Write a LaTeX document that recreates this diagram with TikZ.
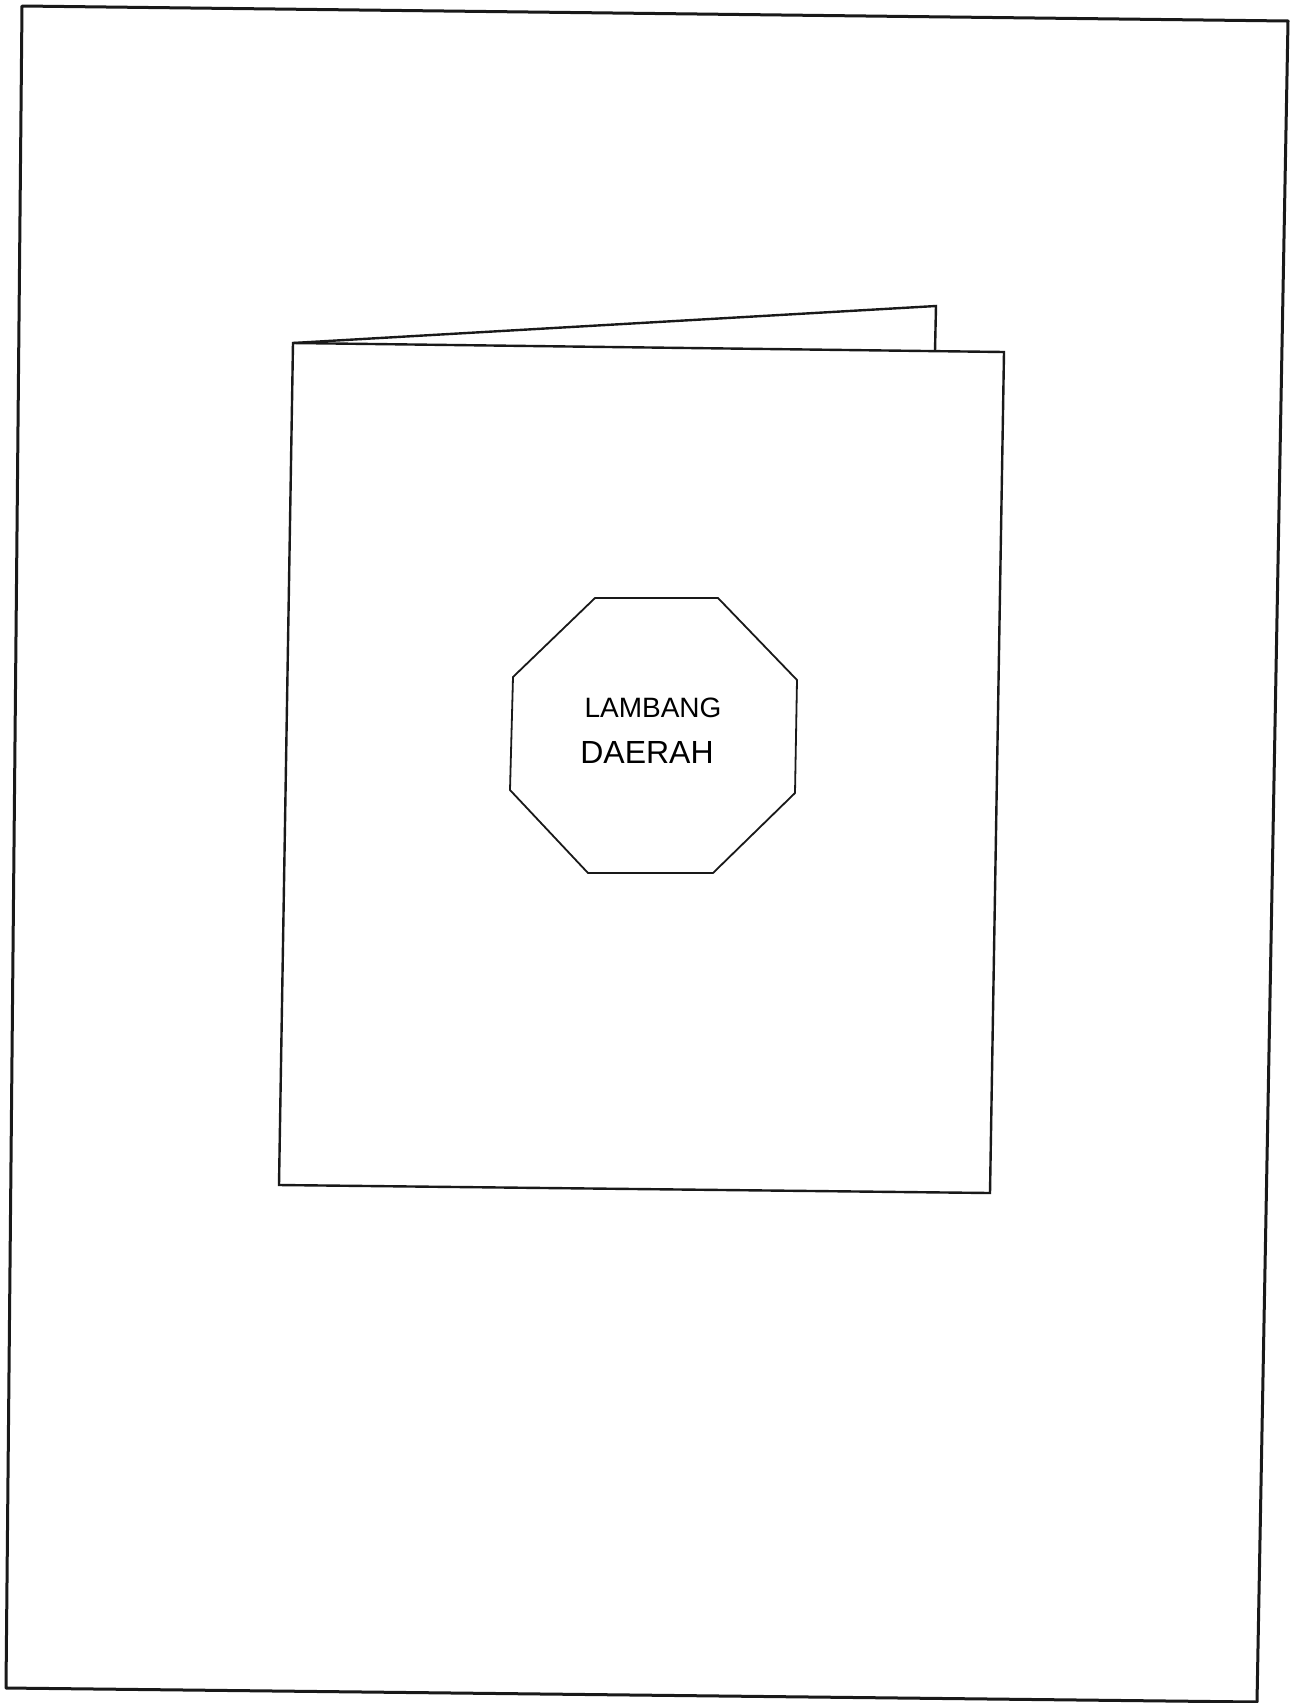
\documentclass[tikz,border=0pt]{standalone}
\usepackage{fontspec}
\setmainfont{Liberation Sans}
\begin{document}
\begin{tikzpicture}[x=0.5pt,y=-0.5pt,
  pageline/.style={draw=black!90,line width=1.5pt,line join=round},
  bookline/.style={draw=black!90,line width=1.2pt,line join=miter},
  octline/.style={draw=black!90,line width=0.9pt,line join=round},
  lbl/.style={inner sep=0pt,text=black}]
\useasboundingbox[fill=white] (0,0) rectangle (1294,1703);
% page border
\coordinate (p1) at (22,6);
\coordinate (p2) at (1288,21);
\coordinate (p3) at (1257,1702);
\coordinate (p4) at (6,1688);
\draw[pageline] (p1) -- (p2) -- (p3) -- (p4) -- cycle;
% back page of booklet
\coordinate (b1) at (293,343);
\coordinate (b2) at (936,306);
\coordinate (b3) at (935,351);
\draw[bookline] (b1) -- (b2) -- (b3);
% front page of booklet
\coordinate (f1) at (293,343);
\coordinate (f2) at (1004,352);
\coordinate (f3) at (990,1193);
\coordinate (f4) at (279,1185);
\draw[bookline] (f1) -- (f2) -- (f3) -- (f4) -- cycle;
% octagon
\coordinate (o1) at (595,598);
\coordinate (o2) at (718,598);
\coordinate (o3) at (797,680);
\coordinate (o4) at (795,793);
\coordinate (o5) at (713,873);
\coordinate (o6) at (588,873);
\coordinate (o7) at (510,790);
\coordinate (o8) at (513,677);
\draw[octline] (o1) -- (o2) -- (o3) -- (o4) -- (o5) -- (o6) -- (o7) -- (o8) -- cycle;
\node[lbl,font=\fontsize{14pt}{16pt}\selectfont] (t1) at (653,708) {LAMBANG};
\node[lbl,font=\fontsize{16pt}{18pt}\selectfont] (t2) at (647,752) {DAERAH};
\end{tikzpicture}
\end{document}
